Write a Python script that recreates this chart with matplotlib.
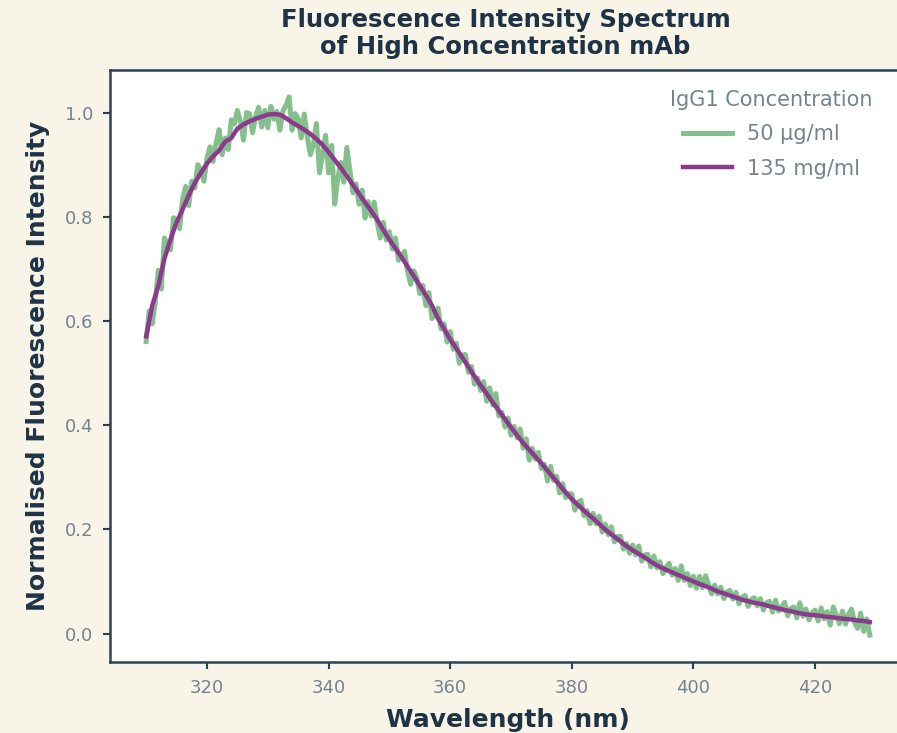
import numpy as np
import matplotlib
matplotlib.use('Agg')
import matplotlib.pyplot as plt

# wavelengths (nm)
wl_low = np.arange(310, 429.25, 0.5)   # 50 ug/ml trace, 0.5 nm steps
wl_high = np.arange(310, 430, 1.0)     # 135 mg/ml trace, 1 nm steps

# 50 ug/ml - noisy trace
low_conc = [
    0.561, 0.620, 0.595, 0.637, 0.698, 0.662, 0.760, 0.749, 0.737, 0.799,
    0.795, 0.778, 0.835, 0.859, 0.822, 0.869, 0.856, 0.901, 0.890, 0.869,
    0.913, 0.935, 0.907, 0.943, 0.968, 0.920, 0.952, 0.930, 0.987, 0.979,
    1.005, 0.984, 0.948, 1.001, 0.999, 0.962, 0.994, 1.011, 0.973, 1.005,
    0.972, 1.013, 0.988, 1.003, 0.967, 1.004, 1.015, 1.031, 0.967, 0.999,
    0.990, 0.952, 0.998, 0.954, 0.920, 0.940, 0.980, 0.885, 0.919, 0.957,
    0.885, 0.938, 0.825, 0.873, 0.905, 0.867, 0.934, 0.891, 0.847, 0.864,
    0.825, 0.852, 0.798, 0.830, 0.802, 0.829, 0.790, 0.760, 0.790, 0.756,
    0.772, 0.739, 0.760, 0.717, 0.728, 0.734, 0.695, 0.671, 0.697, 0.683,
    0.653, 0.669, 0.630, 0.655, 0.605, 0.613, 0.625, 0.585, 0.595, 0.560,
    0.580, 0.546, 0.558, 0.519, 0.535, 0.536, 0.502, 0.513, 0.479, 0.491,
    0.467, 0.484, 0.446, 0.472, 0.439, 0.461, 0.418, 0.425, 0.397, 0.414,
    0.381, 0.398, 0.376, 0.393, 0.356, 0.374, 0.333, 0.356, 0.335, 0.348,
    0.317, 0.325, 0.293, 0.321, 0.294, 0.302, 0.270, 0.288, 0.261, 0.269,
    0.268, 0.237, 0.252, 0.256, 0.226, 0.236, 0.211, 0.231, 0.211, 0.225,
    0.195, 0.210, 0.190, 0.205, 0.176, 0.186, 0.187, 0.162, 0.173, 0.154,
    0.170, 0.151, 0.168, 0.139, 0.151, 0.152, 0.128, 0.149, 0.126, 0.138,
    0.115, 0.127, 0.135, 0.112, 0.125, 0.102, 0.130, 0.102, 0.115, 0.092,
    0.110, 0.087, 0.110, 0.088, 0.111, 0.093, 0.076, 0.093, 0.076, 0.089,
    0.067, 0.080, 0.083, 0.066, 0.079, 0.057, 0.070, 0.073, 0.052, 0.065,
    0.069, 0.053, 0.067, 0.045, 0.059, 0.062, 0.041, 0.064, 0.043, 0.051,
    0.060, 0.034, 0.048, 0.051, 0.030, 0.059, 0.033, 0.047, 0.026, 0.040,
    0.045, 0.024, 0.049, 0.028, 0.042, 0.016, 0.051, 0.035, 0.019, 0.043,
    0.018, 0.037, 0.047, 0.021, 0.010, 0.039, 0.004, 0.028, -0.003,
]

# 135 mg/ml - smooth trace
high_conc = [
    0.571, 0.630, 0.668, 0.720, 0.757, 0.790, 0.815, 0.842, 0.866, 0.885,
    0.903, 0.917, 0.928, 0.945, 0.952, 0.970, 0.978, 0.984, 0.989, 0.993,
    0.997, 0.998, 0.997, 0.990, 0.982, 0.975, 0.968, 0.960, 0.950, 0.939,
    0.925, 0.910, 0.895, 0.879, 0.862, 0.845, 0.828, 0.812, 0.795, 0.775,
    0.757, 0.740, 0.723, 0.705, 0.687, 0.668, 0.650, 0.630, 0.605, 0.585,
    0.565, 0.548, 0.530, 0.512, 0.494, 0.477, 0.461, 0.444, 0.428, 0.412,
    0.396, 0.381, 0.366, 0.353, 0.340, 0.327, 0.313, 0.299, 0.285, 0.271,
    0.258, 0.247, 0.236, 0.226, 0.216, 0.205, 0.195, 0.186, 0.177, 0.168,
    0.160, 0.153, 0.146, 0.138, 0.131, 0.125, 0.120, 0.115, 0.110, 0.105,
    0.100, 0.095, 0.091, 0.086, 0.081, 0.077, 0.073, 0.069, 0.065, 0.062,
    0.059, 0.057, 0.054, 0.051, 0.048, 0.045, 0.043, 0.040, 0.038, 0.036,
    0.035, 0.034, 0.032, 0.031, 0.029, 0.028, 0.027, 0.025, 0.024, 0.022,
]

labels = ['50 \u03bcg/ml', '135 mg/ml']
colours = ['#84c08c', '#8c3a8e']

bg = '#f8f5e8'
dark = '#1e3446'
grey = '#75838e'

plt.rcParams['font.family'] = ['DejaVu Sans']

fig = plt.figure(figsize=(8.97, 7.33), dpi=100, facecolor=bg)
ax = fig.add_axes([0.1226, 0.0969, 0.8874, 0.8076])
ax.set_facecolor('white')

ax.plot(wl_low, low_conc, color=colours[0], lw=3.6, label=labels[0], solid_joinstyle='round')
ax.plot(wl_high, high_conc, color=colours[1], lw=3.2, label=labels[1], solid_joinstyle='round')

ax.set_yticks([0.0, 0.2, 0.4, 0.6, 0.8, 1.0])
ax.set_xticks([320, 340, 360, 380, 400, 420])

for s in ax.spines.values():
    s.set_color('#2c4254')
    s.set_linewidth(1.8)

ax.tick_params(direction='out', length=5, width=1.5, color='#2c4254',
               labelcolor=grey, labelsize=13, pad=7)

ax.set_xlabel('Wavelength (nm)', fontsize=18, fontweight='bold', color=dark, labelpad=8)
ax.set_ylabel('Normalised Fluorescence Intensity', fontsize=18, fontweight='bold', color=dark, labelpad=11)

fig.text(0.5636, 1 - 8 / 733, 'Fluorescence Intensity Spectrum\nof High Concentration mAb',
         ha='center', va='top', fontsize=17.5, fontweight='bold', color=dark, linespacing=1.18)

leg = ax.legend(title='IgG1 Concentration', frameon=False, loc='upper left',
                bbox_to_anchor=(662 / 897, 1 - 82 / 733), bbox_transform=fig.transFigure,
                fontsize=15, title_fontsize=15, handlelength=2.35, handletextpad=0.72,
                labelspacing=0.68, borderaxespad=0)
for t in leg.get_texts():
    t.set_color(grey)
leg.get_title().set_color(grey)

fig.savefig('out.png', dpi=100, facecolor=bg)
